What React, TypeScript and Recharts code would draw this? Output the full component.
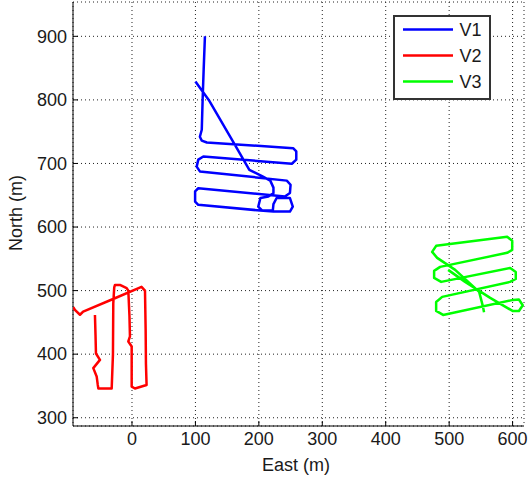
import { CartesianGrid, Legend, Scatter, ScatterChart, XAxis, YAxis } from "recharts";

const X_TICKS = [0, 100, 200, 300, 400, 500, 600];
const Y_TICKS = [300, 400, 500, 600, 700, 800, 900];

// [east, north] in metres
const V1_TRACK: [number, number][] = [
  [115, 900], [113, 848], [111.5, 805], [110, 753], [107, 742], [110, 736], [118, 733],
  [254, 724], [259, 719], [259, 706], [252, 699.5],
  [112.5, 711], [104.5, 706], [102, 695], [107, 687.5],
  [244, 673], [250, 666.5], [249, 653.5], [241, 648],
  [104.5, 661], [99.5, 656], [99.5, 640], [104.5, 635],
  [202, 626], [223, 624.4], [249, 624.4], [253.5, 632], [249, 645.6], [228, 645.6],
  [223, 636], [222, 626], [205, 626], [199, 632], [202.5, 645.6], [215, 648],
  [223, 653], [223, 662], [218, 673], [205, 680], [185, 690], [160, 733], [121, 800], [100, 829],
];

const V2_TRACK: [number, number][] = [
  [-58.4, 461.7], [-57.5, 430], [-56.8, 401], [-50.5, 391], [-61, 378], [-55.7, 365],
  [-54, 352], [-53, 346], [-32, 346], [-30, 400], [-29.5, 480], [-28, 505], [-26.8, 509],
  [-19, 509], [-8.4, 504], [-5.8, 500], [-4, 460], [-3.2, 428], [-5.8, 420], [-0.5, 412],
  [-0.5, 380], [-0.5, 349], [4.7, 346], [23, 351.5], [22, 385], [21.5, 440], [20.5, 500],
  [15, 506], [-27, 488], [-77, 467], [-82, 462], [-90, 469.6], [-92.6, 474],
];

const V3_TRACK: [number, number][] = [
  [555, 466], [553, 476], [547.3, 498], [509.5, 532.6], [481.1, 551.5], [473.2, 560.9],
  [479.5, 570.4], [591.5, 584.6], [599.4, 578.3], [599.4, 564.1], [591.5, 559.4],
  [485.8, 537.3], [476.3, 531], [476.3, 520], [487.4, 513.7],
  [596.2, 535.7], [605, 529.4], [605, 518.4], [596, 513.7],
  [489, 490.1], [479.5, 482.2], [479.5, 468], [490.5, 461.7],
  [600.9, 485.4], [610, 486], [616, 477], [610, 468], [600, 468],
  [564.7, 488.5], [525.2, 513.7], [498.4, 532.6],
];

const SERIES = [
  { name: "V1", color: "#0000ff", track: V1_TRACK },
  { name: "V2", color: "#ff0000", track: V2_TRACK },
  { name: "V3", color: "#00ff00", track: V3_TRACK },
];

const FONT = "'Liberation Sans', Arial, Helvetica, sans-serif";

function YTick({ x, y, payload }: any) {
  return (
    <g>
      <line x1={x + 6} x2={x + 11} y1={y} y2={y} stroke="#000" />
      <text x={x} y={y} dy="0.35em" textAnchor="end" fontSize={18} fontFamily={FONT} fill="#1a1a1a">
        {payload.value}
      </text>
    </g>
  );
}

function XTick({ x, y, payload }: any) {
  return (
    <g>
      <line x1={x} x2={x} y1={y - 6} y2={y - 11} stroke="#000" />
      <text x={x} y={y} dy="0.71em" textAnchor="middle" fontSize={18} fontFamily={FONT} fill="#1a1a1a">
        {payload.value}
      </text>
    </g>
  );
}

function LegendBox() {
  return (
    <svg width={98} height={85} style={{ display: "block" }}>
      <rect x={1} y={1} width={96} height={83} fill="#fff" stroke="#333" strokeWidth={2} />
      {SERIES.map((s, i) => (
        <g key={s.name}>
          <line x1={10} x2={60} y1={14.5 + i * 26} y2={14.5 + i * 26} stroke={s.color} strokeWidth={2.5} />
          <text x={66.5} y={21 + i * 26} fontSize={18} fontFamily={FONT} fill="#1a1a1a">
            {s.name}
          </text>
        </g>
      ))}
    </svg>
  );
}

export default function App() {
  return (
    <div style={{ position: "absolute", left: 0, top: 0, width: 528, height: 481, background: "#fff" }}>
      <ScatterChart width={528} height={481} margin={{ top: 2, right: 4, bottom: 0, left: 0 }}>
        <CartesianGrid stroke="#222" strokeDasharray="1 3" />
        <XAxis
          type="number"
          dataKey="east"
          domain={[-93, 618]}
          ticks={X_TICKS}
          interval={0}
          allowDataOverflow
          height={55}
          tickSize={0}
          tickMargin={6}
          tick={<XTick />}
          axisLine={{ stroke: "#000" }}
          label={() => (
            <text x={296} y={471} textAnchor="middle" fontSize={18} fontFamily={FONT} fill="#1a1a1a">
              East (m)
            </text>
          )}
        />
        <YAxis
          type="number"
          dataKey="north"
          domain={[287, 954]}
          ticks={Y_TICKS}
          interval={0}
          allowDataOverflow
          width={73}
          tickSize={0}
          tickMargin={6}
          tick={<YTick />}
          axisLine={{ stroke: "#000" }}
          label={() => (
            <text
              x={21.5}
              y={213}
              textAnchor="middle"
              transform="rotate(-90 21.5 213)"
              fontSize={18}
              fontFamily={FONT}
              fill="#1a1a1a"
            >
              North (m)
            </text>
          )}
        />
        <Legend
          layout="vertical"
          align="center"
          verticalAlign="middle"
          wrapperStyle={{ left: 393, top: 15, width: 98, height: 85 }}
          content={() => <LegendBox />}
        />
        {SERIES.map((s) => (
          <Scatter
            key={s.name}
            name={s.name}
            data={s.track.map(([east, north]) => ({ east, north }))}
            line={{ stroke: s.color, strokeWidth: 2.5, strokeLinejoin: "round" }}
            shape={() => <g />}
            legendType="none"
            isAnimationActive={false}
          />
        ))}
      </ScatterChart>
    </div>
  );
}
